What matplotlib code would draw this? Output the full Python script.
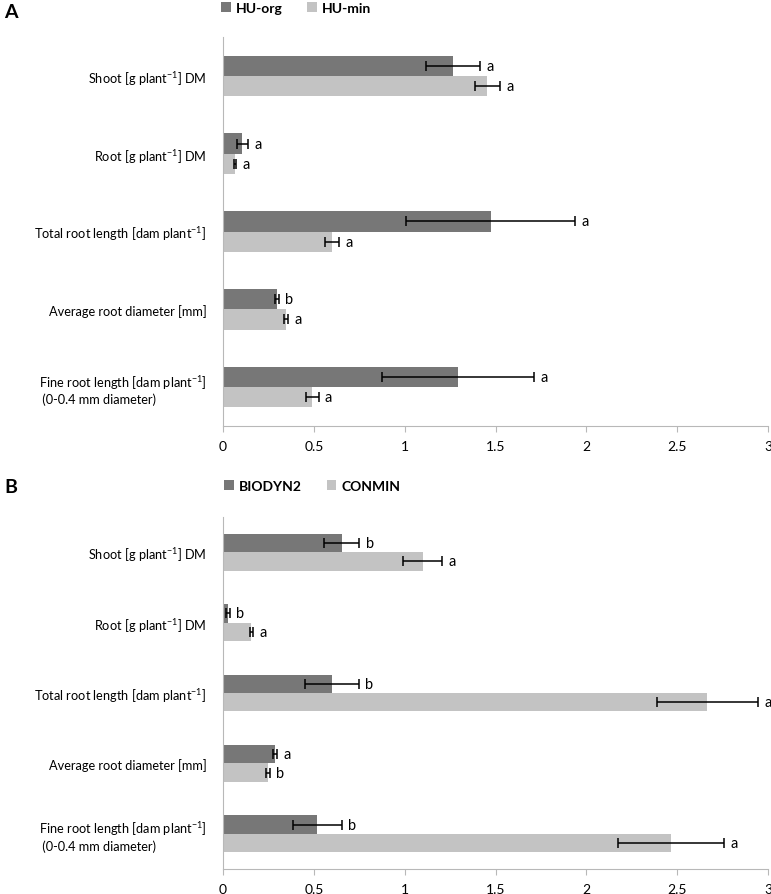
import matplotlib
matplotlib.use('Agg')
import matplotlib.pyplot as plt
import numpy as np

plt.rcParams['font.family'] = ['Lato', 'DejaVu Sans']
plt.rcParams['mathtext.fontset'] = 'custom'
plt.rcParams['mathtext.rm'] = 'Lato'
plt.rcParams['mathtext.it'] = 'Lato:italic'

# categories (top to bottom)
categories = ['Shoot [g plant$^{-1}$] DM',
              'Root [g plant$^{-1}$] DM',
              'Total root length [dam plant$^{-1}$]',
              'Average root diameter [mm]',
              'Fine root length [dam plant$^{-1}$]\n (0-0.4 mm diameter)']

# panel A
a_series = ['HU-org', 'HU-min']
a_org = [1.265, 0.106, 1.475, 0.297, 1.292]
a_org_err = [0.148, 0.031, 0.465, 0.010, 0.418]
a_min = [1.455, 0.066, 0.600, 0.347, 0.492]
a_min_err = [0.068, 0.004, 0.041, 0.010, 0.034]
a_org_letters = ['a', 'a', 'a', 'b', 'a']
a_min_letters = ['a', 'a', 'a', 'a', 'a']

# panel B
b_series = ['BIODYN2', 'CONMIN']
b_bio = [0.653, 0.028, 0.599, 0.287, 0.520]
b_bio_err = [0.098, 0.010, 0.148, 0.010, 0.134]
b_con = [1.099, 0.156, 2.666, 0.249, 2.466]
b_con_err = [0.108, 0.010, 0.277, 0.010, 0.290]
b_bio_letters = ['b', 'b', 'b', 'a', 'b']
b_con_letters = ['a', 'a', 'a', 'b', 'a']

dark = '#777777'
light = '#c3c3c3'
spine_col = '#b8b8b8'

fig = plt.figure(figsize=(7.71, 8.95), dpi=100)
axA = fig.add_axes([223/771, 1-427/895, 545/771, 389/895])
axB = fig.add_axes([223/771, 1-870/895, 545/771, 352/895])


def draw_panel(ax, v1, e1, l1, v2, e2, l2, names, legend_x, legend_y, label, label_y):
    y = np.arange(len(categories))
    h = 0.26
    ax.barh(y - h/2, v1, height=h, color=dark, label=names[0],
            xerr=e1, error_kw=dict(ecolor='black', elinewidth=1.1, capsize=3.5, capthick=1.1))
    ax.barh(y + h/2, v2, height=h, color=light, label=names[1],
            xerr=e2, error_kw=dict(ecolor='black', elinewidth=1.1, capsize=3.5, capthick=1.1))
    for i in range(len(categories)):
        ax.text(v1[i] + e1[i] + 0.035, y[i] - h/2, l1[i], va='center', ha='left', fontsize=10.5)
        ax.text(v2[i] + e2[i] + 0.035, y[i] + h/2, l2[i], va='center', ha='left', fontsize=10.5)
    ax.set_xlim(0, 3)
    ax.set_ylim(len(categories) - 0.5, -0.5)
    ax.set_xticks([0, 0.5, 1, 1.5, 2, 2.5, 3])
    ax.set_xticklabels(['0', '0.5', '1', '1.5', '2', '2.5', '3'], fontsize=10)
    ax.set_yticks(y)
    ax.set_yticklabels(categories, fontsize=9.2)
    for t in ax.get_yticklabels():
        t.set_multialignment('left')
    ax.tick_params(axis='y', length=0, pad=12)
    ax.tick_params(axis='x', length=4, color=spine_col, pad=6)
    for s in ['top', 'right']:
        ax.spines[s].set_visible(False)
    for s in ['left', 'bottom']:
        ax.spines[s].set_color(spine_col)
    fig.legend(handles=ax.patches[:1] + ax.patches[len(categories):len(categories)+1],
               labels=names, loc='center', bbox_to_anchor=(legend_x, legend_y),
               ncol=2, frameon=False, prop=dict(weight='bold', size=10),
               handlelength=0.7, handleheight=0.7, handletextpad=0.35, columnspacing=1.8)
    fig.text(4/771, label_y, label, fontsize=14, fontweight='bold', va='center', ha='left')


draw_panel(axA, a_org, a_org_err, a_org_letters, a_min, a_min_err, a_min_letters,
           a_series, 296/771, 1-9/895, 'A', 1-12/895)
draw_panel(axB, b_bio, b_bio_err, b_bio_letters, b_con, b_con_err, b_con_letters,
           b_series, 312/771, 1-487/895, 'B', 1-488/895)

fig.savefig('out.png', dpi=100)
